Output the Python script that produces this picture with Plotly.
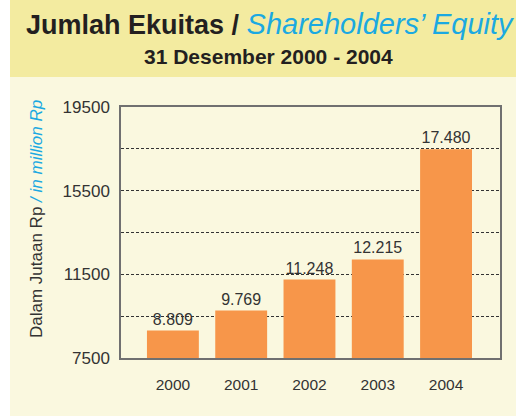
import plotly.graph_objects as go

years = ["2000", "2001", "2002", "2003", "2004"]
equity = [8809, 9769, 11248, 12215, 17480]
y_tick_vals = [7500, 11500, 15500, 19500]

W, H = 526, 416
L, R, T, B = 121, 500, 107, 358

def px(x):
    return (x - L) / (R - L)

def py(y):
    return (B - y) / (B - T)

labels = [f"{v:,}".replace(",", ".") for v in equity]

FONT = "Liberation Sans, Arial, sans-serif"
CYAN = "#1BA9E1"

fig = go.Figure(go.Bar(
    x=years, y=equity, width=0.76,
    marker=dict(color="#F7964A", line=dict(width=0)),
    text=labels, textposition="outside", cliponaxis=False,
    textfont=dict(size=16, color="#333333", family=FONT),
))

fig.update_layout(
    width=W, height=H,
    margin=dict(l=L, r=W - R, t=T, b=H - B),
    paper_bgcolor="white", plot_bgcolor="white",
    showlegend=False,
    separators=",.",
    font=dict(family=FONT, color="#333333"),
    xaxis=dict(
        range=[-0.76, 4.79], showgrid=False, ticks="",
        tickfont=dict(size=15.5, color="#333333"),
        ticklabelstandoff=12,
        showline=True, linecolor="#707070", linewidth=1.5, mirror=True,
        fixedrange=True,
    ),
    yaxis=dict(
        range=[7500, 19500], tickvals=y_tick_vals, tickformat="d",
        ticks="", tickfont=dict(size=17, color="#333333"),
        ticklabelstandoff=6,
        showgrid=True, gridcolor="#333333", gridwidth=1, griddash="3px,2px",
        minor=dict(dtick=2000, tick0=7500, showgrid=True, gridcolor="#333333",
                   gridwidth=1, griddash="3px,2px"),
        showline=True, linecolor="#707070", linewidth=1.5, mirror=True,
        zeroline=False, fixedrange=True,
    ),
    shapes=[
        dict(type="rect", xref="paper", yref="paper", layer="below",
             x0=px(10), x1=px(516), y0=py(77), y1=py(0),
             fillcolor="#F3EBA0", line=dict(width=0)),
        dict(type="rect", xref="paper", yref="paper", layer="below",
             x0=px(10), x1=px(516), y0=py(416), y1=py(77),
             fillcolor="#FAF8DF", line=dict(width=0)),
    ],
    annotations=[
        dict(xref="paper", yref="paper", x=px(270), y=py(24),
             xanchor="center", yanchor="middle", showarrow=False,
             text="<b>Jumlah Ekuitas / </b><i><span style='color:" + CYAN + ";font-size:29px'>Shareholders’ Equity</span></i>",
             font=dict(size=27, color="#231F20", family=FONT)),
        dict(xref="paper", yref="paper", x=px(268), y=py(57),
             xanchor="center", yanchor="middle", showarrow=False,
             text="<b>31 Desember 2000 - 2004</b>",
             font=dict(size=21, color="#231F20", family=FONT)),
        dict(xref="paper", yref="paper", x=px(36), y=py(219),
             xanchor="center", yanchor="middle", showarrow=False, textangle=-90,
             text="Dalam Jutaan Rp <i><span style='color:" + CYAN + "'>/ in million Rp</span></i>",
             font=dict(size=17, color="#333333", family=FONT)),
    ],
)

fig.write_html("out.html", config={"displayModeBar": False},
               post_script="document.body.style.margin='0';")
